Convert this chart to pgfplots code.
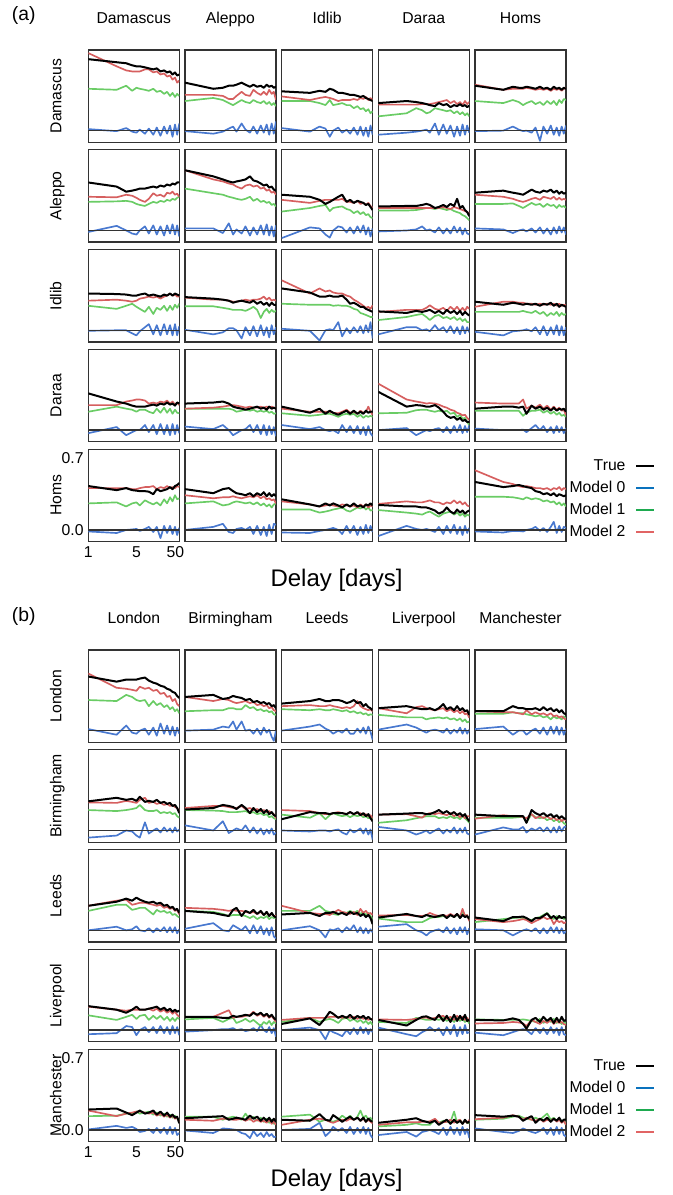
\documentclass[border=0pt]{standalone}
\usepackage{fontspec}
\setmainfont{Liberation Sans}
\usepackage{pgfplots}
\usepackage{pgfplotstable}
\pgfplotsset{compat=1.18}

\newcommand\sm{\fontsize{11.8}{14}\selectfont}
\definecolor{c0}{RGB}{72,120,207}
\definecolor{c1}{RGB}{106,204,101}
\definecolor{c2}{RGB}{214,95,95}
\definecolor{l0}{RGB}{10,114,189}
\definecolor{l1}{RGB}{30,170,80}
\definecolor{l2}{RGB}{225,100,100}

% one table per panel: delays, then True (k), Model 0 (b), Model 1 (g), Model 2 (r)
\newcommand\mk[5]{%
  \pgfplotstableread[header=false,col sep=comma,row sep=\\]{x,1,2,3,4,5,6,8,10,13,16,20,25,30,36,42,49,56,64\\k,#2\\b,#3\\g,#4\\r,#5\\}\mktmp
  \pgfplotstabletranspose[colnames from=0]{#1}{\mktmp}}

% (a) Syria
\mk\Aaa{.70,.67,.66,.64,.63,.63,.62,.61,.60,.61,.58,.59,.57,.58,.55,.57,.54,.55}{.015,-.005,.025,-.01,-.02,.01,-.03,.02,-.04,.03,-.05,.04,-.03,.05,-.06,.06,-.04,.07}{.41,.40,.44,.39,.42,.41,.40,.39,.41,.38,.39,.36,.38,.34,.37,.33,.36,.34}{.76,.63,.59,.58,.58,.58,.60,.60,.57,.58,.55,.56,.53,.54,.50,.52,.47,.49}
\mk\Aab{.47,.41,.42,.44,.44,.45,.47,.45,.43,.45,.43,.44,.42,.45,.43,.44,.42,.43}{-.005,-.03,-.01,.02,.04,-.01,.07,.01,-.02,.04,-.03,.05,-.02,.06,-.04,.07,-.03,.09}{.29,.32,.30,.27,.25,.27,.30,.28,.27,.30,.28,.27,.29,.26,.28,.25,.27,.24}{.35,.35,.34,.31,.31,.34,.38,.35,.34,.40,.37,.35,.38,.35,.40,.36,.38,.30}
\mk\Aac{.385,.37,.39,.38,.41,.40,.37,.37,.36,.35,.35,.34,.33,.34,.32,.31,.30,.29}{.025,-.01,.04,.02,-.06,.00,.03,-.02,.01,-.03,.03,-.04,.04,-.05,.03,-.06,.05,-.04}{.29,.29,.27,.25,.30,.25,.26,.27,.25,.25,.22,.24,.21,.22,.19,.21,.17,.19}{.335,.30,.32,.33,.32,.31,.29,.30,.30,.30,.31,.30,.32,.31,.33,.30,.32,.30}
\mk\Aad{.27,.29,.28,.27,.26,.25,.24,.27,.25,.26,.23,.25,.24,.26,.24,.25,.23,.245}{-.04,-.02,-.01,.00,.01,-.02,.07,-.04,.06,-.03,.05,-.06,.04,-.05,.06,-.04,.05,-.02}{.14,.17,.22,.20,.17,.18,.22,.21,.20,.19,.20,.17,.19,.16,.18,.15,.17,.14}{.255,.255,.255,.26,.26,.26,.27,.28,.29,.30,.27,.29,.26,.28,.25,.29,.26,.28}
\mk\Aae{.44,.40,.43,.42,.42,.43,.42,.41,.43,.41,.42,.40,.43,.41,.42,.40,.42,.41}{-.005,.00,.04,.01,-.005,.00,-.02,.03,-.10,.04,-.03,.05,-.04,.03,-.05,.04,-.03,.05}{.29,.27,.30,.28,.25,.27,.29,.26,.28,.25,.29,.26,.29,.25,.30,.27,.31,.30}{.45,.40,.41,.41,.41,.42,.41,.40,.41,.40,.41,.39,.41,.40,.41,.39,.41,.42}
\mk\Aba{.47,.43,.38,.39,.40,.41,.41,.42,.43,.42,.44,.43,.45,.44,.46,.45,.47,.47}{-.015,.045,.00,-.03,-.04,.00,.04,-.03,.05,-.04,.04,-.05,.05,-.03,.06,-.04,.05,-.06}{.28,.285,.29,.28,.26,.25,.24,.26,.28,.27,.29,.28,.30,.29,.31,.30,.32,.33}{.33,.325,.35,.34,.32,.30,.28,.31,.365,.34,.35,.33,.37,.36,.38,.35,.36,.33}
\mk\Abb{.59,.53,.50,.48,.47,.48,.49,.50,.53,.49,.48,.46,.44,.45,.42,.43,.40,.39}{.02,.02,-.025,.07,-.04,.01,-.03,.04,-.05,.03,-.04,.05,-.04,.06,-.05,.04,-.06,.05}{.41,.365,.35,.33,.32,.31,.30,.31,.33,.29,.31,.28,.29,.27,.28,.25,.26,.235}{.59,.50,.48,.46,.45,.43,.41,.44,.45,.43,.44,.41,.42,.39,.40,.37,.38,.35}
\mk\Abc{.35,.33,.30,.26,.28,.30,.33,.35,.28,.30,.27,.29,.28,.27,.25,.26,.23,.20}{-.075,.03,.02,-.04,-.07,.00,.04,.03,-.02,.03,-.03,.04,-.02,.05,-.04,.03,-.06,.02}{.185,.22,.24,.25,.19,.22,.23,.235,.21,.20,.17,.19,.16,.18,.15,.16,.13,.12}{.30,.27,.29,.30,.30,.30,.30,.31,.28,.28,.27,.29,.26,.27,.25,.27,.24,.22}
\mk\Abd{.235,.24,.24,.25,.26,.25,.22,.23,.25,.23,.26,.24,.31,.22,.24,.20,.18,.14}{-.01,.00,.01,.04,.00,.01,-.02,.03,-.03,.02,-.03,.04,-.02,.03,-.04,.02,-.03,-.04}{.195,.195,.20,.21,.22,.22,.21,.22,.21,.20,.21,.19,.18,.17,.15,.14,.12,.10}{.22,.22,.22,.22,.22,.22,.22,.22,.23,.22,.21,.23,.22,.21,.20,.19,.18,.17}
\mk\Abe{.37,.39,.37,.36,.35,.37,.40,.38,.37,.39,.38,.40,.37,.39,.36,.38,.36,.37}{.02,.01,-.025,.00,.01,-.01,.02,-.02,.03,-.03,.02,-.04,.03,-.03,.04,-.02,.03,-.04}{.26,.26,.265,.24,.22,.24,.27,.25,.26,.23,.26,.24,.25,.22,.25,.23,.24,.22}{.35,.33,.31,.29,.28,.29,.31,.32,.30,.33,.32,.31,.33,.30,.32,.30,.31,.30}
\mk\Aca{.36,.355,.35,.34,.34,.35,.36,.34,.35,.34,.33,.35,.34,.36,.34,.36,.35,.34}{-.005,.00,.00,-.03,-.05,-.01,.03,.06,-.04,.05,-.05,.06,-.04,.05,-.05,.06,-.05,.04}{.24,.21,.24,.26,.23,.21,.18,.23,.16,.22,.20,.24,.19,.24,.20,.25,.22,.26}{.29,.30,.29,.28,.29,.31,.32,.33,.32,.33,.31,.33,.34,.36,.34,.35,.33,.33}
\mk\Acb{.325,.31,.30,.29,.27,.28,.29,.28,.27,.29,.26,.28,.25,.27,.24,.27,.25,.25}{.005,-.04,-.02,.02,.02,.00,-.08,.03,-.05,.04,-.06,.05,-.05,.03,-.07,.05,-.04,.03}{.235,.235,.22,.21,.20,.20,.20,.19,.21,.23,.20,.12,.18,.21,.17,.20,.18,.19}{.32,.30,.30,.29,.28,.28,.29,.30,.29,.30,.30,.31,.33,.30,.32,.29,.30,.29}
\mk\Acc{.41,.37,.33,.33,.34,.33,.33,.34,.30,.26,.27,.25,.23,.23,.21,.20,.19,.18}{.015,-.005,-.10,.00,.01,.00,.08,-.06,.02,-.03,.03,-.02,.04,-.03,.05,-.02,.08,-.08}{.26,.25,.25,.25,.25,.24,.245,.24,.24,.23,.21,.20,.17,.16,.15,.14,.13,.13}{.49,.36,.41,.38,.39,.37,.36,.36,.34,.33,.30,.28,.26,.24,.22,.23,.21,.245}
\mk\Acd{.185,.17,.19,.18,.19,.20,.17,.19,.16,.20,.17,.19,.16,.19,.15,.18,.16,.145}{-.04,.03,.03,.00,.01,-.01,.05,.00,.03,-.02,.04,-.03,.03,-.04,.04,-.03,.03,-.02}{.10,.13,.15,.16,.13,.10,.14,.15,.12,.13,.11,.13,.10,.12,.09,.11,.08,.08}{.18,.20,.20,.20,.22,.245,.21,.20,.22,.19,.23,.20,.23,.19,.22,.19,.23,.21}
\mk\Ace{.28,.25,.27,.26,.25,.26,.25,.26,.24,.26,.25,.27,.24,.26,.23,.25,.24,.23}{-.015,-.05,-.01,-.005,.00,.01,-.01,.03,-.04,.04,-.05,.03,-.04,.05,-.05,.04,-.05,.03}{.18,.18,.18,.18,.19,.18,.17,.19,.16,.18,.14,.17,.15,.18,.14,.17,.15,.16}{.23,.28,.28,.27,.27,.26,.26,.25,.26,.25,.26,.25,.26,.24,.26,.24,.25,.245}
\mk\Ada{.36,.28,.26,.24,.23,.23,.23,.24,.25,.24,.26,.25,.27,.25,.26,.24,.27,.26}{-.03,.03,-.05,-.02,.00,.00,.05,-.02,.05,-.04,.06,-.04,.05,-.05,.06,-.04,.05,-.03}{.18,.23,.21,.20,.18,.20,.20,.18,.165,.21,.17,.22,.17,.21,.16,.20,.17,.165}{.245,.245,.28,.29,.30,.30,.29,.26,.27,.26,.28,.27,.29,.26,.28,.25,.27,.245}
\mk\Adb{.26,.27,.28,.26,.23,.22,.21,.20,.21,.22,.23,.21,.22,.20,.23,.21,.22,.21}{.035,.01,.05,.00,-.05,-.03,.00,.01,.05,-.02,.05,-.04,.05,-.05,.04,-.04,.03,-.06}{.21,.21,.21,.21,.20,.18,.19,.20,.19,.20,.18,.19,.18,.19,.17,.18,.16,.165}{.21,.22,.23,.24,.245,.24,.23,.22,.23,.22,.22,.23,.22,.23,.22,.23,.22,.22}
\mk\Adc{.23,.17,.21,.16,.19,.17,.15,.17,.19,.16,.19,.16,.18,.16,.19,.17,.18,.18}{.05,.01,.03,.00,-.01,.00,-.03,.05,-.02,.04,-.03,.04,-.04,.03,-.05,.04,-.03,-.06}{.165,.14,.15,.16,.16,.15,.13,.15,.16,.15,.16,.13,.15,.12,.14,.13,.14,.13}{.21,.18,.18,.18,.18,.17,.165,.18,.20,.17,.18,.16,.19,.17,.18,.23,.18,.15}
\mk\Add{.375,.23,.245,.24,.23,.23,.245,.22,.18,.14,.12,.13,.10,.12,.09,.10,.08,.08}{.00,.02,-.05,-.02,.00,-.01,.01,.02,-.02,.03,-.03,.04,-.02,.05,-.03,.04,-.02,.05}{.165,.17,.195,.20,.20,.19,.18,.19,.18,.19,.16,.17,.13,.15,.11,.12,.08,.05}{.455,.30,.28,.27,.26,.265,.26,.25,.23,.22,.20,.19,.17,.16,.145,.15,.12,.10}
\mk\Ade{.21,.23,.23,.22,.23,.16,.24,.21,.23,.20,.22,.19,.22,.19,.21,.20,.21,.18}{.015,.00,.00,.00,.005,-.02,.02,.05,.00,.04,-.02,.03,-.03,.04,-.02,.03,-.03,.02}{.19,.19,.19,.19,.14,.17,.19,.19,.20,.17,.19,.16,.18,.15,.17,.14,.15,.13}{.27,.26,.26,.26,.30,.21,.24,.22,.25,.21,.24,.20,.23,.20,.22,.19,.20,.145}
\mk\Aea{.43,.39,.41,.39,.385,.38,.38,.375,.35,.40,.38,.39,.40,.42,.40,.43,.44,.46}{-.015,-.03,.00,.005,.01,-.01,.01,.03,-.02,.03,-.08,.04,-.03,.04,-.04,.03,-.05,.02}{.26,.27,.23,.26,.27,.24,.29,.27,.25,.27,.24,.30,.26,.32,.28,.34,.30,.31}{.41,.41,.41,.40,.40,.41,.42,.42,.43,.40,.42,.41,.43,.41,.42,.41,.43,.42}
\mk\Aeb{.40,.36,.40,.41,.38,.36,.35,.34,.36,.33,.36,.34,.37,.33,.36,.33,.35,.33}{.00,.03,.06,-.02,-.03,.01,.02,.00,.03,-.04,.04,-.05,.03,-.06,.05,-.04,.06,.05}{.26,.28,.24,.25,.27,.28,.27,.26,.27,.25,.27,.24,.26,.23,.25,.22,.25,.26}{.34,.31,.32,.32,.33,.32,.31,.32,.33,.32,.34,.31,.33,.30,.31,.29,.30,.26}
\mk\Aec{.30,.25,.23,.26,.24,.26,.24,.22,.25,.23,.26,.23,.24,.22,.25,.24,.26,.24}{-.025,-.03,-.01,.00,.01,.02,.00,-.04,.04,-.03,.04,-.05,.03,-.04,.05,-.03,.04,-.02}{.20,.20,.17,.18,.19,.20,.21,.22,.19,.18,.20,.22,.21,.23,.20,.22,.19,.195}{.28,.25,.23,.24,.25,.24,.23,.25,.24,.23,.24,.22,.25,.23,.25,.22,.24,.23}
\mk\Aed{.245,.23,.23,.22,.22,.21,.19,.16,.18,.22,.18,.16,.20,.17,.19,.16,.18,.19}{-.06,.04,.01,.00,.01,.00,-.02,.03,-.04,.04,-.03,.05,-.04,.03,-.05,.04,-.03,.02}{.195,.17,.16,.15,.17,.18,.15,.13,.16,.17,.18,.15,.17,.14,.16,.13,.15,.14}{.255,.28,.27,.27,.28,.29,.27,.27,.25,.27,.26,.29,.26,.28,.25,.27,.24,.23}
\mk\Aee{.47,.42,.43,.44,.43,.42,.41,.38,.37,.35,.36,.34,.36,.33,.35,.34,.33,.34}{-.015,-.025,-.01,-.01,-.015,.00,.01,.03,-.01,.02,-.02,.03,.08,-.03,.04,-.02,.03,.02}{.325,.325,.32,.31,.30,.32,.30,.31,.30,.28,.29,.27,.28,.25,.27,.24,.26,.23}{.585,.47,.45,.43,.42,.43,.42,.41,.41,.40,.41,.39,.41,.40,.42,.39,.41,.40}

% (b) England
\mk\Baa{.53,.48,.50,.50,.50,.51,.52,.49,.47,.46,.44,.43,.41,.40,.38,.37,.34,.32}{.015,-.04,.05,-.02,-.03,.00,.02,-.04,.03,-.05,.07,-.03,.05,-.04,.04,-.05,.03,-.03}{.30,.29,.35,.33,.30,.29,.30,.24,.29,.25,.27,.23,.25,.21,.23,.19,.21,.17}{.56,.42,.41,.40,.39,.43,.41,.42,.39,.40,.36,.37,.33,.34,.29,.31,.26,.24}
\mk\Bab{.33,.35,.31,.32,.34,.33,.32,.30,.31,.28,.29,.27,.28,.26,.27,.24,.25,.22}{.00,.01,.04,.03,.09,.01,.09,.00,.01,-.03,.02,-.04,.03,-.02,.01,-.06,-.10,.00}{.19,.20,.20,.22,.22,.21,.21,.25,.22,.23,.20,.21,.19,.20,.18,.19,.16,.155}{.33,.29,.31,.30,.28,.27,.28,.29,.27,.28,.25,.26,.24,.25,.22,.23,.20,.19}
\mk\Bac{.265,.29,.31,.29,.29,.30,.30,.29,.27,.28,.30,.27,.28,.24,.26,.23,.22,.20}{.00,.04,.06,.02,.00,-.03,.00,-.02,.02,-.03,-.03,.02,-.02,.03,-.03,.04,-.01,-.09}{.21,.20,.21,.20,.20,.21,.20,.19,.20,.18,.19,.17,.18,.16,.17,.15,.16,.155}{.24,.25,.24,.24,.25,.24,.23,.22,.23,.22,.24,.29,.24,.22,.21,.20,.21,.19}
\mk\Bad{.22,.24,.22,.21,.21,.22,.20,.22,.26,.21,.23,.20,.24,.20,.22,.19,.20,.155}{.01,.06,.03,.00,-.02,.00,.01,.00,-.02,.02,-.03,.01,-.02,.03,-.03,.02,-.03,.01}{.155,.13,.13,.13,.11,.12,.125,.13,.12,.13,.11,.12,.10,.12,.09,.11,.08,.09}{.22,.17,.23,.24,.22,.21,.20,.21,.22,.19,.21,.18,.20,.17,.19,.16,.17,.125}
\mk\Bae{.19,.19,.24,.22,.22,.21,.21,.22,.20,.23,.20,.22,.19,.21,.18,.20,.17,.16}{.015,.04,-.04,.00,.00,-.04,.00,.02,-.03,.03,-.04,.04,-.03,.04,-.04,.03,-.04,.02}{.165,.165,.18,.17,.17,.16,.15,.14,.15,.13,.14,.11,.14,.12,.13,.11,.14,.12}{.19,.18,.18,.17,.16,.20,.16,.18,.16,.17,.15,.17,.14,.15,.13,.14,.12,.11}
\mk\Bba{.285,.32,.30,.31,.29,.33,.28,.29,.28,.30,.27,.28,.26,.27,.24,.25,.22,.17}{-.07,-.05,.00,-.01,-.05,-.07,.08,-.03,.00,.02,-.02,.03,-.01,.02,-.02,.03,-.01,.01}{.20,.19,.20,.21,.22,.25,.20,.19,.19,.20,.17,.18,.17,.18,.16,.17,.14,.125}{.275,.27,.29,.28,.27,.30,.32,.27,.28,.26,.27,.25,.26,.24,.25,.23,.22,.19}
\mk\Bbb{.205,.22,.25,.24,.23,.21,.25,.22,.17,.22,.18,.21,.17,.20,.16,.18,.15,.14}{.05,.00,.09,-.025,.00,.02,.00,.05,-.02,.03,-.03,.02,-.04,.01,-.03,.02,-.04,-.02}{.20,.195,.19,.18,.18,.18,.185,.19,.17,.18,.16,.17,.15,.16,.13,.14,.12,.11}{.22,.24,.24,.23,.22,.22,.24,.21,.22,.20,.21,.19,.20,.18,.19,.17,.16,.12}
\mk\Bbc{.11,.18,.17,.17,.16,.17,.17,.17,.16,.18,.16,.18,.15,.17,.14,.16,.12,.09}{.00,-.01,.00,.00,-.01,.00,.01,-.02,-.04,.01,-.02,.00,.02,-.03,.02,-.04,.01,-.09}{.155,.125,.17,.11,.15,.17,.15,.14,.15,.13,.15,.14,.15,.13,.14,.12,.13,.11}{.20,.19,.17,.16,.16,.17,.18,.17,.16,.18,.16,.17,.17,.15,.16,.14,.15,.12}
\mk\Bbd{.155,.165,.17,.17,.16,.16,.18,.20,.17,.19,.16,.18,.15,.17,.14,.16,.12,.09}{.035,.00,-.04,-.02,.00,-.03,.00,.02,-.03,.01,-.02,.03,-.03,.02,-.02,.03,-.03,-.04}{.075,.10,.12,.13,.14,.14,.14,.12,.13,.12,.14,.12,.13,.11,.14,.12,.10,.075}{.155,.16,.14,.125,.16,.17,.16,.17,.16,.15,.17,.14,.16,.13,.15,.12,.14,.14}
\mk\Bbe{.155,.14,.14,.14,.14,.075,.20,.17,.15,.17,.14,.16,.13,.15,.12,.14,.12,.11}{-.04,.03,.01,.01,.035,-.02,.02,.00,.03,-.01,.03,-.02,.03,-.02,.04,-.01,.03,.04}{.125,.125,.125,.13,.135,.08,.16,.13,.12,.13,.10,.12,.09,.11,.08,.10,.07,.06}{.115,.15,.14,.14,.13,.12,.16,.12,.14,.12,.14,.11,.13,.10,.12,.09,.11,.10}
\mk\Bca{.24,.28,.31,.29,.32,.30,.28,.27,.28,.26,.27,.24,.25,.22,.23,.20,.21,.17}{.00,.035,.00,.01,.04,.00,-.01,.02,-.02,.02,-.01,.03,-.02,.03,-.02,.03,-.03,.01}{.19,.25,.25,.20,.21,.22,.22,.19,.155,.20,.18,.19,.17,.18,.15,.16,.14,.125}{.24,.29,.30,.25,.26,.27,.27,.26,.25,.24,.25,.22,.23,.21,.22,.19,.20,.155}
\mk\Bcb{.19,.17,.15,.14,.20,.22,.14,.19,.17,.20,.16,.19,.15,.18,.14,.17,.14,.125}{.015,.07,.00,-.01,.05,.03,.00,.04,-.03,.05,-.03,.04,-.04,.02,-.05,.03,-.06,-.08}{.19,.18,.16,.14,.15,.15,.15,.14,.12,.14,.11,.13,.12,.14,.11,.13,.12,.125}{.22,.21,.20,.19,.20,.19,.19,.18,.17,.18,.16,.18,.15,.17,.15,.16,.14,.14}
\mk\Bcc{.155,.17,.14,.17,.17,.18,.16,.17,.15,.18,.16,.17,.14,.16,.13,.15,.12,.06}{.00,.04,.00,-.07,.01,.00,.02,-.02,.03,.00,.05,-.02,.03,-.03,.02,-.03,.01,-.02}{.19,.19,.24,.19,.18,.16,.15,.18,.17,.19,.17,.19,.16,.18,.15,.17,.14,.11}{.24,.17,.16,.16,.15,.17,.20,.18,.17,.16,.18,.15,.21,.17,.19,.16,.17,.15}
\mk\Bcd{.125,.16,.14,.13,.15,.14,.13,.14,.15,.12,.15,.13,.16,.12,.15,.13,.14,.11}{.035,.06,.00,-.02,-.05,-.02,.00,.01,-.02,.03,-.03,.02,-.04,.03,-.02,.03,-.04,.02}{.115,.08,.08,.08,.10,.12,.13,.13,.14,.13,.15,.13,.15,.14,.17,.15,.14,.11}{.145,.15,.14,.14,.15,.17,.15,.14,.15,.14,.16,.14,.16,.13,.21,.14,.15,.09}
\mk\Bce{.125,.09,.13,.13,.135,.12,.09,.12,.12,.14,.165,.12,.14,.11,.14,.12,.13,.12}{.01,.00,-.05,-.02,.00,.01,-.01,.02,-.03,.02,-.03,.03,-.02,.03,-.03,.02,-.03,-.01}{.08,.11,.12,.125,.12,.11,.10,.12,.13,.15,.17,.13,.11,.14,.12,.13,.11,.12}{.11,.08,.09,.10,.11,.10,.07,.09,.11,.13,.11,.12,.06,.10,.08,.09,.07,.08}
\mk\Bda{.235,.20,.17,.20,.23,.20,.20,.21,.22,.23,.20,.22,.19,.21,.18,.20,.18,.19}{-.04,-.03,.04,.03,-.05,.00,.03,-.02,.03,-.03,.04,-.03,.03,-.04,.04,-.03,.03,-.05}{.145,.10,.13,.15,.11,.14,.15,.10,.14,.11,.14,.10,.13,.09,.12,.09,.12,.11}{.23,.20,.19,.20,.20,.20,.20,.21,.19,.21,.18,.20,.17,.19,.16,.18,.15,.13}
\mk\Bdb{.13,.13,.12,.12,.14,.13,.14,.15,.14,.17,.15,.17,.14,.16,.13,.15,.12,.10}{-.015,.00,.01,.01,.02,.00,.01,-.01,.00,.02,-.01,.05,.00,-.02,.03,-.03,.02,-.065}{.105,.12,.08,.11,.12,.07,.09,.11,.08,.10,.07,.04,.08,.06,.09,.05,.08,.065}{.13,.13,.17,.195,.12,.13,.13,.14,.15,.18,.14,.16,.13,.15,.12,.14,.11,.08}
\mk\Bdc{.06,.115,.05,.12,.18,.16,.12,.14,.12,.15,.11,.14,.12,.14,.11,.13,.11,.10}{.00,.025,.00,-.09,.00,-.02,-.04,-.06,.00,-.04,.02,-.04,.03,-.03,.02,-.04,.01,-.02}{.08,.12,.08,.10,.11,.10,.07,.11,.12,.09,.11,.08,.10,.07,.09,.06,.08,.05}{.10,.12,.12,.12,.13,.13,.13,.12,.13,.12,.13,.11,.13,.11,.12,.10,.11,.10}
\mk\Bdd{.10,.045,.10,.13,.135,.12,.10,.15,.09,.14,.08,.15,.09,.14,.10,.15,.09,.10}{.025,-.04,-.06,-.02,.00,.03,-.01,.02,-.05,.03,-.04,.05,-.06,.03,-.04,.05,-.03,-.02}{.08,.07,.12,.11,.10,.10,.11,.10,.12,.09,.11,.08,.12,.09,.11,.08,.10,.065}{.105,.10,.11,.12,.125,.11,.12,.13,.14,.11,.13,.10,.14,.11,.13,.10,.12,.09}
\mk\Bde{.10,.095,.115,.10,.06,.015,.10,.12,.08,.13,.09,.12,.07,.12,.08,.13,.09,.10}{-.025,-.05,-.02,.00,.01,.00,-.04,.02,-.03,.02,-.04,.03,-.03,.02,-.05,.03,-.04,-.05}{.105,.10,.10,.10,.105,.10,.09,.08,.11,.07,.10,.08,.11,.07,.09,.06,.08,.065}{.065,.07,.08,.075,.065,.04,.10,.08,.06,.09,.07,.10,.06,.09,.07,.08,.06,.05}
\mk\Bea{.20,.21,.17,.145,.17,.19,.16,.17,.19,.15,.18,.14,.17,.13,.15,.12,.13,.065}{.005,.04,.02,.03,.01,-.02,-.01,.01,-.03,.02,-.03,.02,-.04,.03,-.04,.02,-.05,-.03}{.135,.14,.16,.16,.18,.16,.17,.18,.15,.17,.14,.16,.13,.15,.12,.14,.11,.10}{.19,.135,.16,.17,.18,.18,.17,.16,.17,.14,.16,.13,.15,.12,.14,.11,.12,.08}
\mk\Beb{.115,.13,.135,.10,.11,.12,.11,.10,.14,.11,.13,.09,.12,.09,.12,.08,.11,.08}{-.005,-.03,.015,.01,.005,.00,-.03,-.04,-.08,-.01,-.06,-.03,-.07,-.02,-.06,-.04,-.07,-.065}{.13,.13,.10,.12,.13,.12,.10,.16,.10,.13,.09,.12,.08,.11,.07,.10,.06,.065}{.10,.09,.11,.11,.10,.10,.11,.09,.11,.08,.10,.08,.09,.07,.10,.06,.08,.05}
\mk\Bec{.10,.09,.155,.10,.09,.145,.11,.08,.11,.13,.10,.12,.09,.12,.08,.11,.09,.08}{.00,.01,.07,-.06,-.02,.03,-.01,.02,-.03,.03,-.04,.02,-.03,.03,-.04,.02,-.05,-.08}{.13,.15,.08,.10,.09,.08,.10,.14,.11,.14,.10,.13,.19,.12,.14,.10,.12,.08}{.05,.10,.11,.10,.08,.07,.09,.10,.09,.11,.10,.12,.09,.11,.08,.10,.08,.065}
\mk\Bed{.07,.10,.115,.09,.08,.07,.09,.05,.08,.10,.06,.10,.07,.09,.06,.10,.07,.08}{-.05,-.02,-.065,-.02,-.01,.00,-.02,-.04,.02,-.05,.03,-.04,.02,-.05,.03,-.04,.01,-.08}{.035,.05,.065,.05,.05,.05,.10,.07,.09,.08,.08,.18,.07,.10,.06,.09,.07,.065}{.05,.075,.075,.08,.08,.085,.11,.07,.075,.08,.10,.07,.09,.10,.06,.09,.07,.10}
\mk\Bee{.145,.13,.14,.13,.09,.11,.135,.07,.11,.09,.12,.08,.11,.09,.12,.08,.10,.10}{.015,-.02,-.03,-.01,.015,.00,-.02,-.03,-.01,.02,-.04,.02,-.05,.03,-.04,.02,-.05,-.065}{.10,.11,.13,.14,.12,.11,.10,.12,.10,.13,.16,.10,.12,.09,.11,.08,.10,.05}{.105,.12,.145,.13,.10,.12,.10,.09,.11,.08,.10,.09,.11,.08,.10,.07,.09,.05}

\pgfplotsset{
  panel/.style={
    scale only axis, width=68.25pt, height=69.2pt, anchor=south west,
    xmin=-1.6094, xmax=4.1463, ymin=-0.114, ymax=0.79,
    xtick=\empty, ytick=\empty, major tick length=0pt,
    axis line style={draw=black!80, line width=0.9pt},
    title style={at={(0.5,1)}, anchor=base, yshift=13.7pt, font=\sm},
    ylabel style={at={(axis description cs:-0.295,0.5)}, anchor=base, font=\sm},
    tick label style={font=\sm},
  },
  ticked/.style={xtick={-1.6094,1.4351,3.8959}, xticklabels={1,5,50},
    ytick={0,0.7}, yticklabels={0.0,0.7}},
  m0/.style={color=c0, line width=1.25pt, line join=round},
  m1/.style={color=c1, line width=1.25pt, line join=round},
  m2/.style={color=c2, line width=1.25pt, line join=round},
  tk/.style={color=black, line width=1.5pt, line join=round},
  zl/.style={color=black!80, line width=1.1pt},
  leg/.style={
    legend plot pos=right, legend cell align=right,
    legend image code/.code={\draw[##1] (0pt,0pt) -- (13.5pt,0pt);},
    legend style={at={(axis description cs:2.0,0.93)}, anchor=north east,
      draw=none, fill=none, font=\sm, row sep=3.6pt, inner sep=1pt,
      nodes={inner sep=1.5pt},
      /tikz/every odd column/.append style={column sep=6pt}}},
}

\newcommand\legitems{%
  \addlegendimage{black,line width=1.4pt}\addlegendentry{True}
  \addlegendimage{l0,line width=1.4pt}\addlegendentry{Model 0}
  \addlegendimage{l1,line width=1.4pt}\addlegendentry{Model 1}
  \addlegendimage{l2,line width=1.4pt}\addlegendentry{Model 2}}

% col, row, y of the bottom of the first row, table, options, extra content
\newcommand\panel[6]{%
  \begin{axis}[panel, at={({66.22pt+72.5pt*#1},{#3-74.87pt*#2})}, #5]
    #6
    \addplot[m0] table[x expr=ln(\thisrow{x}-0.8), y=b] {#4};
    \addplot[zl] coordinates {(-1.7,0) (4.2,0)};
    \addplot[m1] table[x expr=ln(\thisrow{x}-0.8), y=g] {#4};
    \addplot[m2] table[x expr=ln(\thisrow{x}-0.8), y=r] {#4};
    \addplot[tk] table[x expr=ln(\thisrow{x}-0.8), y=k] {#4};
  \end{axis}}

\begin{document}
\begin{tikzpicture}
\useasboundingbox (0,0) rectangle (504.75pt,-896.25pt);

% ---- (a)
\def\yb{-106.7pt}
\panel{0}{0}{\yb}{\Aaa}{title=Damascus, ylabel=Damascus}{}
\panel{1}{0}{\yb}{\Aab}{title=Aleppo}{}
\panel{2}{0}{\yb}{\Aac}{title=Idlib}{}
\panel{3}{0}{\yb}{\Aad}{title=Daraa}{}
\panel{4}{0}{\yb}{\Aae}{title=Homs}{}
\panel{0}{1}{\yb}{\Aba}{ylabel=Aleppo}{}
\panel{1}{1}{\yb}{\Abb}{}{}
\panel{2}{1}{\yb}{\Abc}{}{}
\panel{3}{1}{\yb}{\Abd}{}{}
\panel{4}{1}{\yb}{\Abe}{}{}
\panel{0}{2}{\yb}{\Aca}{ylabel=Idlib}{}
\panel{1}{2}{\yb}{\Acb}{}{}
\panel{2}{2}{\yb}{\Acc}{}{}
\panel{3}{2}{\yb}{\Acd}{}{}
\panel{4}{2}{\yb}{\Ace}{}{}
\panel{0}{3}{\yb}{\Ada}{ylabel=Daraa}{}
\panel{1}{3}{\yb}{\Adb}{}{}
\panel{2}{3}{\yb}{\Adc}{}{}
\panel{3}{3}{\yb}{\Add}{}{}
\panel{4}{3}{\yb}{\Ade}{}{}
\panel{0}{4}{\yb}{\Aea}{ylabel=Homs, ticked}{}
\panel{1}{4}{\yb}{\Aeb}{}{}
\panel{2}{4}{\yb}{\Aec}{}{}
\panel{3}{4}{\yb}{\Aed}{}{}
\panel{4}{4}{\yb}{\Aee}{leg}{\legitems}

% ---- (b)
\def\yb{-556.7pt}
\panel{0}{0}{\yb}{\Baa}{title=London, ylabel=London}{}
\panel{1}{0}{\yb}{\Bab}{title=Birmingham}{}
\panel{2}{0}{\yb}{\Bac}{title=Leeds}{}
\panel{3}{0}{\yb}{\Bad}{title=Liverpool}{}
\panel{4}{0}{\yb}{\Bae}{title=Manchester}{}
\panel{0}{1}{\yb}{\Bba}{ylabel=Birmingham}{}
\panel{1}{1}{\yb}{\Bbb}{}{}
\panel{2}{1}{\yb}{\Bbc}{}{}
\panel{3}{1}{\yb}{\Bbd}{}{}
\panel{4}{1}{\yb}{\Bbe}{}{}
\panel{0}{2}{\yb}{\Bca}{ylabel=Leeds}{}
\panel{1}{2}{\yb}{\Bcb}{}{}
\panel{2}{2}{\yb}{\Bcc}{}{}
\panel{3}{2}{\yb}{\Bcd}{}{}
\panel{4}{2}{\yb}{\Bce}{}{}
\panel{0}{3}{\yb}{\Bda}{ylabel=Liverpool}{}
\panel{1}{3}{\yb}{\Bdb}{}{}
\panel{2}{3}{\yb}{\Bdc}{}{}
\panel{3}{3}{\yb}{\Bdd}{}{}
\panel{4}{3}{\yb}{\Bde}{}{}
\panel{0}{4}{\yb}{\Bea}{ylabel=Manchester, ticked}{}
\panel{1}{4}{\yb}{\Beb}{}{}
\panel{2}{4}{\yb}{\Bec}{}{}
\panel{3}{4}{\yb}{\Bed}{}{}
\panel{4}{4}{\yb}{\Bee}{leg}{\legitems}

\node[font=\fontsize{14.5}{17}\selectfont, anchor=base west, inner sep=0pt] at (8.8pt,-15.75pt) {(a)};
\node[font=\fontsize{14.5}{17}\selectfont, anchor=base west, inner sep=0pt] at (8.8pt,-465.75pt) {(b)};
\node[font=\fontsize{18}{21}\selectfont, anchor=base, inner sep=0pt] at (252.4pt,-440pt) {Delay [days]};
\node[font=\fontsize{18}{21}\selectfont, anchor=base, inner sep=0pt] at (252.4pt,-890pt) {Delay [days]};
\end{tikzpicture}
\end{document}
